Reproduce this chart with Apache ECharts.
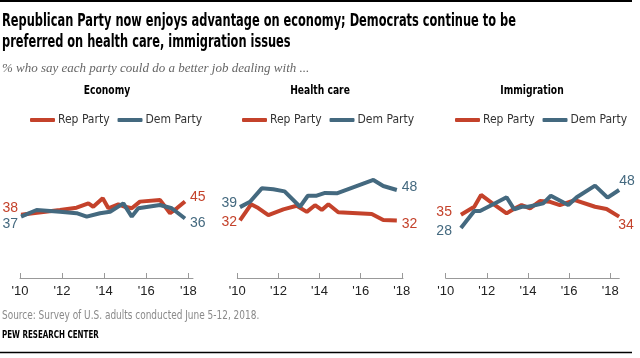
<!DOCTYPE html>
<html>
<head>
<meta charset="utf-8">
<script src="https://cdn.jsdelivr.net/npm/echarts@6/dist/echarts.min.js"></script>
<style>html,body{margin:0;padding:0;background:#fff}#c{width:640px;height:358px}</style>
</head>
<body>
<div id="c"></div>
<script>
// ---- Data ----
const panelTitles = ['Economy', 'Health care', 'Immigration'];
const seriesNames = ['Rep Party', 'Dem Party'];
const xTicks = [2010, 2012, 2014, 2016, 2018];
const xTickLabels = ["'10", "'12", "'14", "'16", "'18"];

const econRep = [[2010.05,38],[2010.71,38.9],[2011.9,40.5],[2012.69,41.7],[2013.25,44],[2013.48,42.2],[2013.93,46.7],[2014.2,41.4],[2014.67,43.5],[2014.99,42.2],[2015.31,41.4],[2015.7,44.9],[2016.65,45.8],[2017.13,38.8],[2017.45,41.4],[2017.84,45]];
const econDem = [[2010.05,37],[2010.79,40.5],[2011.9,39.6],[2012.69,38.8],[2013.17,37],[2013.8,38.8],[2014.28,39.6],[2014.91,44],[2015.31,37],[2015.62,41.4],[2016.65,43.1],[2017.21,41.4],[2017.84,36]];
const healthRep = [[2010.13,32],[2010.67,40.5],[2011.02,38.5],[2011.51,34.8],[2012.24,37.8],[2012.89,39.7],[2013.38,36.5],[2013.78,40],[2014.11,37.5],[2014.43,40.5],[2014.91,36.3],[2016.54,35.4],[2017.1,32.2],[2017.76,32]];
const healthDem = [[2010.13,39],[2010.62,41.8],[2011.19,48.9],[2011.75,48.4],[2012.3,47.3],[2013.05,39.2],[2013.43,45],[2013.86,45],[2014.27,46.5],[2014.84,46.3],[2016.62,53.3],[2017.1,50.1],[2017.76,48]];
const immRep = [[2010.74,35],[2011.39,39.2],[2011.72,45.4],[2012.24,41.3],[2012.96,35.7],[2013.37,38.4],[2013.69,40.1],[2014.1,38.4],[2014.58,42.2],[2015.07,41.8],[2015.55,40.1],[2016.28,42.7],[2017.26,39.2],[2017.82,38],[2018.43,34]];
const immDem = [[2010.74,28],[2011.39,37],[2011.67,37],[2012.31,40.5],[2012.96,44.2],[2013.33,37.8],[2013.69,39.2],[2014.01,39.2],[2014.74,41],[2015.11,45],[2015.96,40.1],[2016.37,44.2],[2017.26,50.3],[2017.87,44],[2018.43,48]];

const titleLines = ['Republican Party now enjoys advantage on economy; Democrats continue to be',
                    'preferred on health care, immigration issues'];
const subtitle = '% who say each party could do a better job dealing with ...';
const sourceText = 'Source: Survey of U.S. adults conducted June 5-12, 2018.';
const creditText = 'PEW RESEARCH CENTER';

// ---- Styling / layout ----
const RED = '#c4422b', BLUE = '#44697f';
const COND = "'DejaVu Sans Condensed','Liberation Sans',Arial,sans-serif";
const SANS = "'Liberation Sans',Arial,sans-serif";

const grids = [
  {left: 20, top: 129.8, width: 173, height: 148.2},
  {left: 237.3, top: 129.8, width: 165.7, height: 148.2},
  {left: 445.7, top: 129.8, width: 173.6, height: 148.2}
];
const xMax = [2018.22, 2018.06, 2018.44];
const yRange = [[4.7, 82.7], [1.7, 79.7], [1.7, 79.7]];

const labelCfg = [
  { rep: [{position:'left', distance:3, offset:[0,-7]}, {position:'right', distance:5, offset:[0,-4]}],
    dem: [{position:'left', distance:3, offset:[0,8]},  {position:'right', distance:5, offset:[0,5]}] },
  { rep: [{position:'left', distance:3, offset:[0,2]},  {position:'right', distance:5, offset:[0,4]}],
    dem: [{position:'left', distance:3, offset:[0,-4]}, {position:'right', distance:5, offset:[0,-3]}] },
  { rep: [{position:'left', distance:9, offset:[0,-3]}, {position:'bottom', distance:2, offset:[7,0]}],
    dem: [{position:'left', distance:9, offset:[0,3]},  {position:'top', distance:2, offset:[8,0]}] }
];

function buildData(arr, cfgs, color) {
  return arr.map((p, i) => {
    const item = {value: p};
    const c = i === 0 ? cfgs[0] : (i === arr.length - 1 ? cfgs[1] : null);
    if (c) {
      item.label = Object.assign({
        show: true, color: color, fontSize: 14, fontFamily: SANS,
        formatter: (prm) => Math.round(prm.value[1])
      }, c);
    }
    return item;
  });
}

const panelData = [[econRep, econDem], [healthRep, healthDem], [immRep, immDem]];

const xAxes = grids.map((g, i) => ({
  type: 'value', gridIndex: i, min: 2010, max: xMax[i],
  axisLine: {show: true, lineStyle: {color: '#999', width: 1}},
  axisTick: {show: true, customValues: xTicks, length: 5, inside: true, lineStyle: {color: '#999'}},
  axisLabel: {customValues: xTicks, formatter: (v) => xTickLabels[xTicks.indexOf(v)] || '',
              color: '#222', fontSize: 13, fontFamily: SANS, margin: 7},
  splitLine: {show: false}
}));
const yAxes = grids.map((g, i) => ({
  type: 'value', gridIndex: i, min: yRange[i][0], max: yRange[i][1], show: false, splitLine: {show: false}
}));

const series = [];
panelData.forEach((pd, i) => {
  series.push({
    name: seriesNames[0], type: 'line', xAxisIndex: i, yAxisIndex: i, color: RED,
    symbol: 'circle', symbolSize: 0, lineStyle: {width: 4, color: RED}, silent: true,
    data: buildData(pd[0], labelCfg[i].rep, RED), z: 3
  });
  series.push({
    name: seriesNames[1], type: 'line', xAxisIndex: i, yAxisIndex: i, color: BLUE,
    symbol: 'circle', symbolSize: 0, lineStyle: {width: 4, color: BLUE}, silent: true,
    data: buildData(pd[1], labelCfg[i].dem, BLUE), z: 4
  });
});

const legendLefts = [25, 237, 450];
const legends = legendLefts.map(l => ({
  left: l, top: 109, data: seriesNames, icon: 'roundRect', itemWidth: 25, itemHeight: 4,
  itemGap: 8, selectedMode: false,
  textStyle: {fontSize: 12, color: '#333', fontFamily: COND, padding: [0, 0, 0, -2]}
}));

function txt(text, x, y, font, fill, scaleX, align) {
  return {type: 'text', x: x, y: y, scaleX: scaleX, silent: true,
    style: {text: text, font: font, fill: fill, align: align || 'left', verticalAlign: 'middle'}};
}
const panelTitleCenters = [107, 320, 532];
const graphics = [
  {type: 'line', shape: {x1: 0, y1: 1, x2: 632, y2: 1}, style: {stroke: '#000', lineWidth: 2}},
  {type: 'line', shape: {x1: 0, y1: 352.5, x2: 632, y2: 352.5}, style: {stroke: '#000', lineWidth: 1.5}},
  txt(titleLines[0], 2, 22, "bold 17px 'DejaVu Sans Condensed', sans-serif", '#000', 0.745),
  txt(titleLines[1], 2, 43, "bold 17px 'DejaVu Sans Condensed', sans-serif", '#000', 0.745),
  txt(subtitle, 2, 69, "italic 13px 'Liberation Serif', serif", '#666', 1),
  txt(sourceText, 2, 316, "12px 'DejaVu Sans Condensed', sans-serif", '#8a8a8a', 0.83),
  txt(creditText, 2, 335, "bold 11px 'DejaVu Sans Condensed', sans-serif", '#000', 0.72)
];
panelTitleCenters.forEach((cx, i) => {
  graphics.push(txt(panelTitles[i], cx, 91, "bold 12px 'DejaVu Sans Condensed', sans-serif", '#000', 0.85, 'center'));
});

const chart = echarts.init(document.getElementById('c'), null, {renderer: 'canvas'});
chart.setOption({
  animation: false,
  backgroundColor: '#fff',
  legend: legends,
  grid: grids,
  xAxis: xAxes,
  yAxis: yAxes,
  series: series,
  graphic: graphics
});
</script>
</body>
</html>
